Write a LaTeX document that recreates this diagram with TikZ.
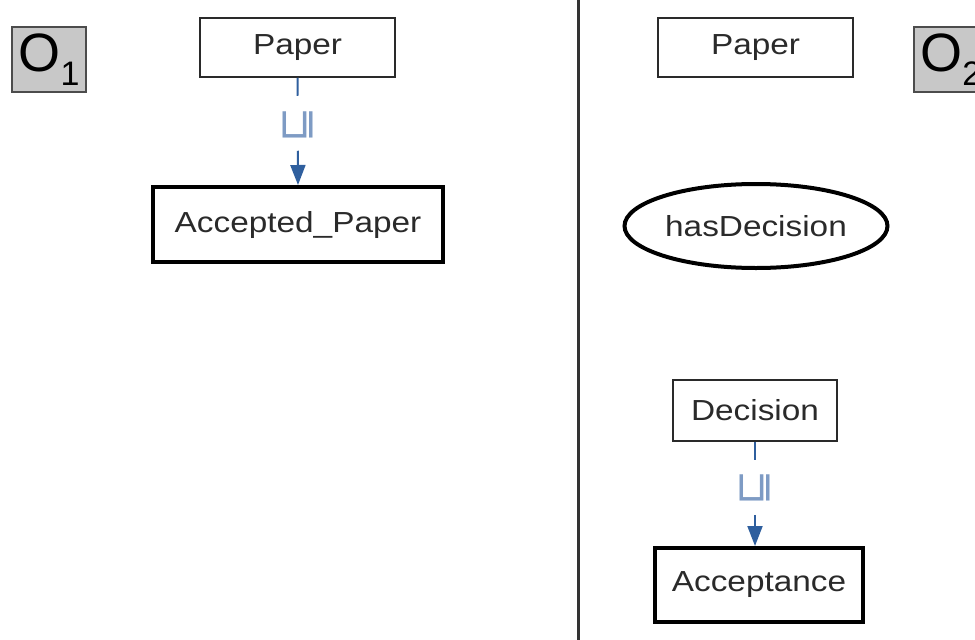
\documentclass[tikz,border=0pt]{standalone}
\usepackage{fontspec}
\setmainfont{Liberation Sans}
\newfontfamily\dv{DejaVu Sans}
\usetikzlibrary{shapes.geometric,arrows.meta}
\definecolor{txt}{HTML}{2A2A2A}
\definecolor{lnk}{HTML}{2F5F9E}
\definecolor{lbl}{HTML}{7E9BC4}
\definecolor{ogrey}{HTML}{C8C8C8}
\newcommand{\wtext}[1]{\scalebox{1.15}[1]{#1}}
\tikzset{
  x=1pt,y=-1pt,
  thinbox/.style={draw=txt,line width=1.5pt,fill=white,inner sep=0pt,text=txt,font=\fontsize{29}{31}\selectfont},
  thickbox/.style={draw=black,line width=4pt,fill=white,inner sep=0pt,text=txt,font=\fontsize{29}{31}\selectfont},
  obox/.style={draw=black!70,line width=1.5pt,fill=ogrey,inner sep=0pt,minimum width=74pt,minimum height=65pt,font=\fontsize{54}{56}\selectfont},
  sublink/.style={draw=lnk,line width=2pt,dash pattern=on 18pt off 55pt on 60pt,-{Triangle[length=20pt,width=15pt]}},
  sublabel/.style={rotate=90,text=lbl,font=\dv\fontsize{42}{42}\selectfont,inner sep=0pt}
}
\begin{document}
\begin{tikzpicture}
\useasboundingbox (0,0) rectangle (975,640);
% separator
\draw[line width=3pt,draw=black!80] (578,0) -- (578,640);
% left ontology
\node[obox] (o1) at (49,59.5) {O\raisebox{-0.5ex}{\fontsize{34}{34}\selectfont 1}};
\node[thinbox,minimum width=195pt,minimum height=59pt] (p1) at (297.5,47.5) {\wtext{Paper}};
\node[thickbox,minimum width=290pt,minimum height=75pt] (ap) at (298,224.5) {\wtext{Accepted\_Paper}};
\draw[sublink] (p1.south) -- node[sublabel,pos=0.44] (l1) {⊑} (ap.north);
% right ontology
\node[thinbox,minimum width=195pt,minimum height=59pt] (p2) at (755.5,47.5) {\wtext{Paper}};
\node[obox,anchor=west] (o2) at (913,59.5) {O\raisebox{-0.5ex}{\fontsize{34}{34}\selectfont 2}};
\node[ellipse,draw=black,line width=4pt,fill=white,minimum width=263pt,minimum height=84pt,inner sep=0pt,text=txt,font=\fontsize{29}{31}\selectfont] (hd) at (756,226) {\wtext{hasDecision}};
\node[thinbox,minimum width=164pt,minimum height=61pt] (de) at (755,410.5) {\wtext{Decision}};
\node[thickbox,minimum width=208pt,minimum height=74pt] (ac) at (759,585) {\wtext{Acceptance}};
\draw[sublink] (de.south) -- node[sublabel,pos=0.44] (l2) {⊑} (de.south |- ac.north);
\end{tikzpicture}
\end{document}
